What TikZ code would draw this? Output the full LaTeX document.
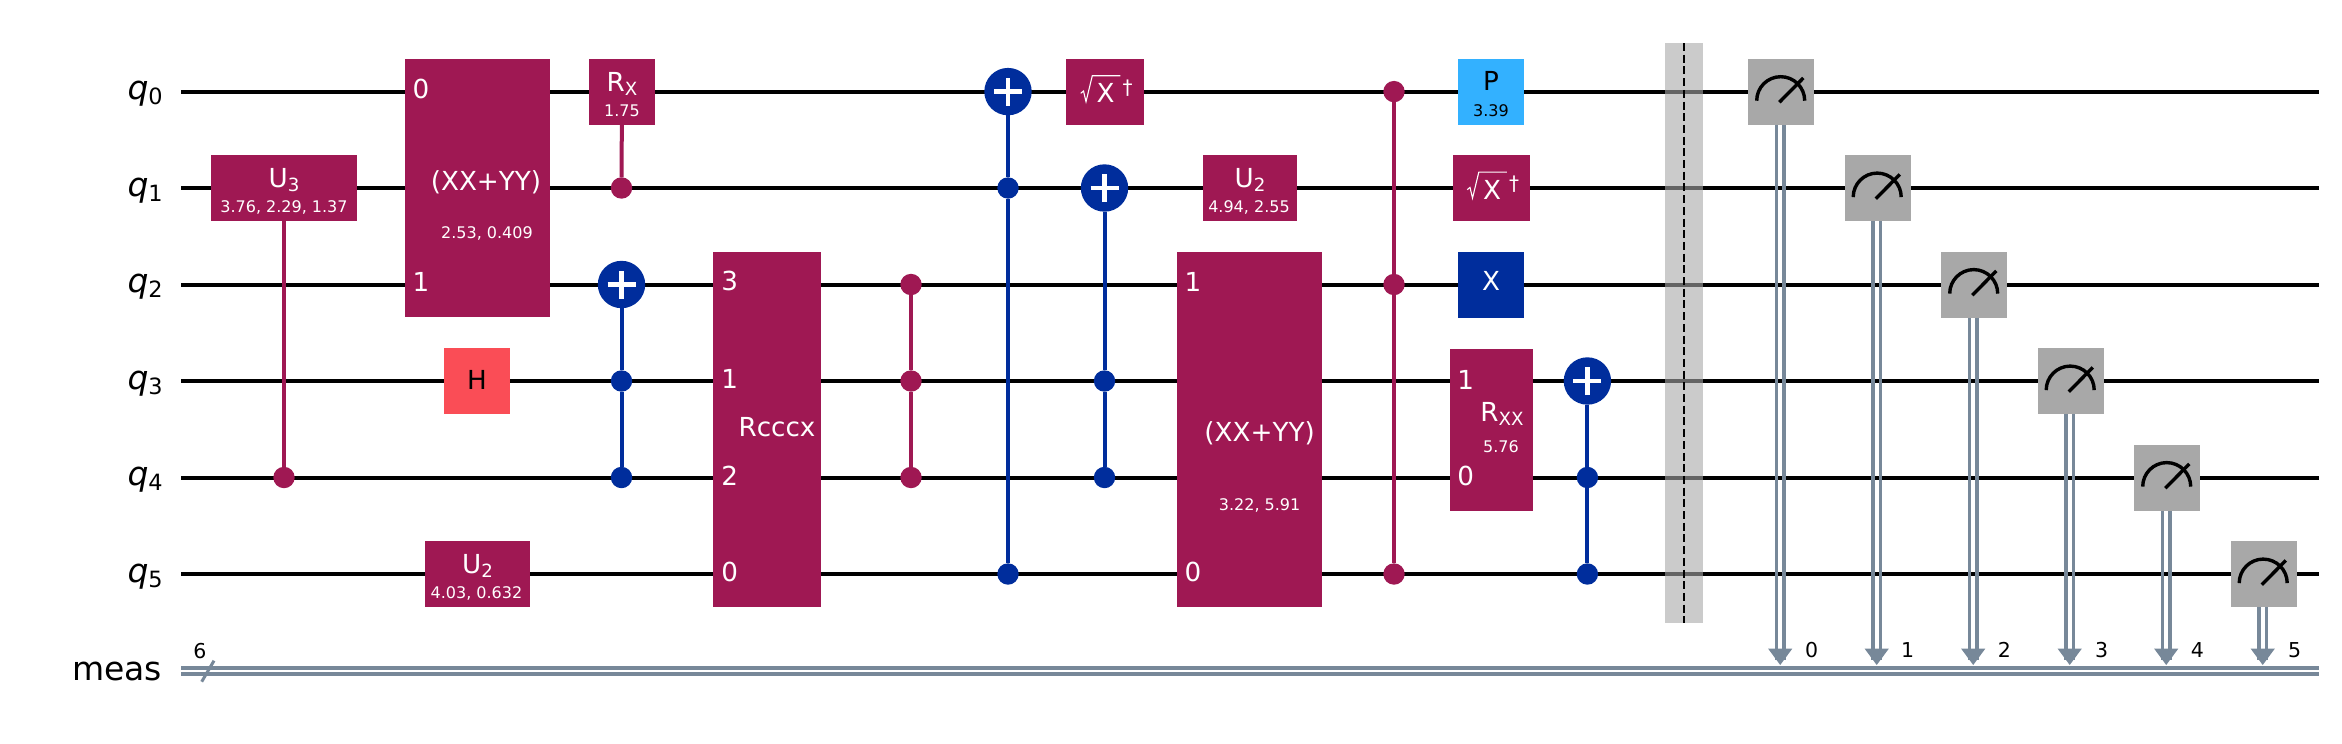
\documentclass[tikz,border=0pt]{standalone}
\usepackage{fontspec}
\setmainfont{DejaVu Sans}
\definecolor{gpurple}{HTML}{9F1853}
\definecolor{gblue}{HTML}{002D9C}
\definecolor{gred}{HTML}{FA4D56}
\definecolor{gsky}{HTML}{33B1FF}
\definecolor{ggray}{HTML}{A8A8A8}
\definecolor{gclbit}{HTML}{778899}
\newcommand{\gatesub}[1]{\raisebox{-4pt}{\fontsize{18.2}{20}\selectfont #1}}
\newcommand{\qlab}[1]{\textit{q}\raisebox{-5pt}{\fontsize{22.4}{24}\selectfont #1}}
\tikzset{
	wire/.style={line width=4pt,black},
	clwire/.style={line width=3.6pt,gclbit},
	bluelink/.style={line width=4pt,gblue},
	purplelink/.style={line width=4pt,gpurple},
	gatebox/.style={rectangle,inner sep=0pt,outer sep=0pt,minimum height=66pt,fill=gpurple},
	bluedot/.style={circle,inner sep=0pt,outer sep=0pt,minimum size=21.4pt,fill=gblue},
	purpledot/.style={circle,inner sep=0pt,outer sep=0pt,minimum size=21.4pt,fill=gpurple},
	cxtarget/.style={circle,inner sep=0pt,outer sep=0pt,minimum size=47.4pt,fill=gblue,
		path picture={\draw[white,line width=4.5pt]
			([xshift=-14pt]path picture bounding box.center)--([xshift=14pt]path picture bounding box.center)
			([yshift=-14pt]path picture bounding box.center)--([yshift=14pt]path picture bounding box.center);}},
	measbox/.style={rectangle,inner sep=0pt,outer sep=0pt,minimum width=66pt,minimum height=66pt,fill=ggray},
	txt/.style={anchor=base,inner sep=0pt,outer sep=0pt,text=white,font=\fontsize{26.2}{30}\selectfont},
	subtxt/.style={anchor=base,inner sep=0pt,outer sep=0pt,text=white,font=\fontsize{16}{20}\selectfont},
	daggertxt/.style={anchor=base,inner sep=0pt,outer sep=0pt,text=white,font=\fontsize{20}{24}\selectfont},
	lab/.style={anchor=base east,inner sep=0pt,outer sep=0pt,font=\fontsize{33}{40}\selectfont},
	cllab/.style={anchor=base,inner sep=0pt,outer sep=0pt,font=\fontsize{20.5}{24}\selectfont},
	meter/.pic={\draw[line width=3.4pt,black] (-24.3,8.7) arc[start angle=180,end angle=360,radius=24];
		\draw[line width=3.4pt,black] (-1.7,10.3)--(22.3,-14);},
	radical/.pic={\draw[white,line width=1.1pt,line join=miter] (-24.3,1.3)--(-21.5,-1)--(-19,9.7)--(-12.7,-16.3)--(15.3,-16.3);},
	tip/.pic={\fill[gclbit] (0,0)--(-12.2,-16.5)--(12.2,-16.5)--cycle;}
}
\begin{document}
\begin{tikzpicture}[x=1pt,y=-1pt,line cap=butt,line join=miter]
	\useasboundingbox (0,0) rectangle (2342,744);
	\coordinate (w0l) at (181,91.6); \coordinate (w0r) at (2319,91.6);
	\coordinate (w1l) at (181,188); \coordinate (w1r) at (2319,188);
	\coordinate (w2l) at (181,284.5); \coordinate (w2r) at (2319,284.5);
	\coordinate (w3l) at (181,381); \coordinate (w3r) at (2319,381);
	\coordinate (w4l) at (181,477.5); \coordinate (w4r) at (2319,477.5);
	\coordinate (w5l) at (181,574); \coordinate (w5r) at (2319,574);
	\coordinate (cl) at (181,671); \coordinate (cr) at (2319,671);
	\draw[wire] (w0l)--(w0r);
	\draw[wire] (w1l)--(w1r);
	\draw[wire] (w2l)--(w2r);
	\draw[wire] (w3l)--(w3r);
	\draw[wire] (w4l)--(w4r);
	\draw[wire] (w5l)--(w5r);
	\draw[clwire] ([yshift=3pt]cl)--([yshift=3pt]cr);
	\draw[clwire] ([yshift=-3pt]cl)--([yshift=-3pt]cr);
	\coordinate (sla) at (201.7,681.7); \coordinate (slb) at (214,660.7);
	\draw[gclbit,line width=3pt] (sla)--(slb);
	\node[lab] (lq0) at (162.7,99.6) {\qlab{0}};
	\node[lab] (lq1) at (162.7,196) {\qlab{1}};
	\node[lab] (lq2) at (162.7,292.5) {\qlab{2}};
	\node[lab] (lq3) at (162.7,389) {\qlab{3}};
	\node[lab] (lq4) at (162.7,485.5) {\qlab{4}};
	\node[lab] (lq5) at (162.7,582) {\qlab{5}};
	\node[lab] (lmeas) at (162,680.7) {meas};
	\node[cllab] (lsix) at (200,658) {6};
	% gates before the barrier
	\node[gatebox,minimum width=146pt] (uthree) at (284,188) {};
	\node[purpledot] (uctrl) at (284,477.5) {};
	\draw[purplelink] (uthree)--(uctrl);
	\node[txt] (uthreea) at (284,187.5) {U\gatesub{3}};
	\node[subtxt] (uthreeb) at (284,212.5) {3.76, 2.29, 1.37};
	\node[gatebox,minimum width=145pt,minimum height=258.6pt] (xxa) at (477.5,188) {};
	\node[txt] (xxat) at (486,190) {(XX+YY)};
	\node[subtxt] (xxas) at (487,238) {2.53, 0.409};
	\node[txt] (xxap) at (421,98.7) {0};
	\node[txt] (xxaq) at (421,291.7) {1};
	\node[gatebox,minimum width=66pt,fill=gred] (hgate) at (477,381) {};
	\node[txt,text=black] (hgatet) at (477,389) {H};
	\node[gatebox,minimum width=105pt] (utwoa) at (477.5,574) {};
	\node[txt] (utwoat) at (477.5,573.5) {U\gatesub{2}};
	\node[subtxt] (utwoas) at (476.5,598.5) {4.03, 0.632};
	\node[gatebox,minimum width=66pt] (rx) at (622,91.6) {};
	\node[purpledot] (rxctrl) at (621.5,188) {};
	\draw[purplelink] (rx)--(rxctrl);
	\node[txt] (rxt) at (622,91) {R\gatesub{X}};
	\node[subtxt] (rxs) at (622,116) {1.75};
	\node[cxtarget] (cxat) at (621.5,284.5) {};
	\node[bluedot] (cxaa) at (621.5,381) {};
	\node[bluedot] (cxab) at (621.5,477.5) {};
	\draw[bluelink] (cxat)--(cxaa);
	\draw[bluelink] (cxaa)--(cxab);
	\node[gatebox,minimum width=108pt,minimum height=355pt] (rc) at (767,429.5) {};
	\node[txt] (rct) at (777,436.4) {Rcccx};
	\node[txt] (rcp) at (729.6,290.8) {3};
	\node[txt] (rcq) at (729.6,388.5) {1};
	\node[txt] (rcr) at (729.6,485) {2};
	\node[txt] (rcs) at (729.6,581) {0};
	\node[purpledot] (czza) at (911,284.5) {};
	\node[purpledot] (czzb) at (911,381) {};
	\node[purpledot] (czzc) at (911,477.5) {};
	\draw[purplelink] (czza)--(czzb);
	\draw[purplelink] (czzb)--(czzc);
	\node[cxtarget] (cxbt) at (1008,91.6) {};
	\node[bluedot] (cxba) at (1008,188) {};
	\node[bluedot] (cxbb) at (1008,574) {};
	\draw[bluelink] (cxbt)--(cxba);
	\draw[bluelink] (cxba)--(cxbb);
	\node[gatebox,minimum width=77.5pt] (sxa) at (1105,91.6) {};
	\pic at (1105,92) {radical};
	\node[txt] (sxat) at (1105.5,102.5) {X};
	\node[daggertxt] (sxas) at (1127.5,94) {†};
	\node[cxtarget] (cxct) at (1104.5,188) {};
	\node[bluedot] (cxca) at (1104.5,381) {};
	\node[bluedot] (cxcb) at (1104.5,477.5) {};
	\draw[bluelink] (cxct)--(cxca);
	\draw[bluelink] (cxca)--(cxcb);
	\node[gatebox,minimum width=94pt] (utwob) at (1250,188) {};
	\node[txt] (utwobt) at (1250,187.5) {U\gatesub{2}};
	\node[subtxt] (utwobs) at (1249,212.5) {4.94, 2.55};
	\node[gatebox,minimum width=145pt,minimum height=355pt] (xxb) at (1249.5,429.5) {};
	\node[txt] (xxbt) at (1259.6,441) {(XX+YY)};
	\node[subtxt] (xxbs) at (1259.6,510) {3.22, 5.91};
	\node[txt] (xxbp) at (1193,291) {1};
	\node[txt] (xxbq) at (1193,581) {0};
	\node[purpledot] (ccza) at (1394,91.6) {};
	\node[purpledot] (cczb) at (1394,284.5) {};
	\node[purpledot] (cczc) at (1394,574) {};
	\draw[purplelink] (ccza)--(cczb);
	\draw[purplelink] (cczb)--(cczc);
	\node[gatebox,minimum width=66pt,fill=gsky] (pgate) at (1491,91.6) {};
	\node[txt,text=black] (pgatet) at (1491,90.5) {P};
	\node[subtxt,text=black] (pgates) at (1491,116) {3.39};
	\node[gatebox,minimum width=77.5pt] (sxb) at (1491.5,188) {};
	\pic at (1491.5,188.4) {radical};
	\node[txt] (sxbt) at (1492,199) {X};
	\node[daggertxt] (sxbs) at (1514,190.4) {†};
	\node[gatebox,minimum width=66pt,fill=gblue] (xgate) at (1491,284.5) {};
	\node[txt] (xgatet) at (1491,290.3) {X};
	\node[gatebox,minimum width=83pt,minimum height=162pt] (rxx) at (1491.5,430) {};
	\node[txt] (rxxt) at (1502,421) {R\gatesub{XX}};
	\node[subtxt] (rxxs) at (1501,452) {5.76};
	\node[txt] (rxxp) at (1465.7,389) {1};
	\node[txt] (rxxq) at (1465.7,485) {0};
	\node[cxtarget] (cxdt) at (1587.4,381) {};
	\node[bluedot] (cxda) at (1587.4,477.5) {};
	\node[bluedot] (cxdb) at (1587.4,574) {};
	\draw[bluelink] (cxdt)--(cxda);
	\draw[bluelink] (cxda)--(cxdb);
	% barrier
	\node[rectangle,inner sep=0pt,outer sep=0pt,minimum width=38pt,minimum height=579.5pt,fill=ggray,opacity=.6] (bar) at (1684,332.75) {};
	\draw[black,line width=2.2pt,dash pattern=on 8pt off 3.7pt] (bar.north)--(bar.south);
	% measures
	\node[measbox] (m0) at (1781,92) {};
	\coordinate (t0) at (1780.2,665);
	\draw[clwire] ([xshift=-3.8pt]m0.south-|t0)--([xshift=-3.8pt,yshift=5pt]t0);
	\draw[clwire] ([xshift=3.8pt]m0.south-|t0)--([xshift=3.8pt,yshift=5pt]t0);
	\pic at (t0) {tip};
	\pic at (m0) {meter};
	\node[cllab] (c0) at (1811.7,657.7) {0};
	\node[measbox] (m1) at (1877.5,188.4) {};
	\coordinate (t1) at (1876.7,665);
	\draw[clwire] ([xshift=-3.8pt]m1.south-|t1)--([xshift=-3.8pt,yshift=5pt]t1);
	\draw[clwire] ([xshift=3.8pt]m1.south-|t1)--([xshift=3.8pt,yshift=5pt]t1);
	\pic at (t1) {tip};
	\pic at (m1) {meter};
	\node[cllab] (c1) at (1907.6,657.7) {1};
	\node[measbox] (m2) at (1974,284.9) {};
	\coordinate (t2) at (1973.2,665);
	\draw[clwire] ([xshift=-3.8pt]m2.south-|t2)--([xshift=-3.8pt,yshift=5pt]t2);
	\draw[clwire] ([xshift=3.8pt]m2.south-|t2)--([xshift=3.8pt,yshift=5pt]t2);
	\pic at (t2) {tip};
	\pic at (m2) {meter};
	\node[cllab] (c2) at (2004.4,657.7) {2};
	\node[measbox] (m3) at (2070.5,381.4) {};
	\coordinate (t3) at (2069.7,665);
	\draw[clwire] ([xshift=-3.8pt]m3.south-|t3)--([xshift=-3.8pt,yshift=5pt]t3);
	\draw[clwire] ([xshift=3.8pt]m3.south-|t3)--([xshift=3.8pt,yshift=5pt]t3);
	\pic at (t3) {tip};
	\pic at (m3) {meter};
	\node[cllab] (c3) at (2101.6,657.7) {3};
	\node[measbox] (m4) at (2167,477.9) {};
	\coordinate (t4) at (2166.2,665);
	\draw[clwire] ([xshift=-3.8pt]m4.south-|t4)--([xshift=-3.8pt,yshift=5pt]t4);
	\draw[clwire] ([xshift=3.8pt]m4.south-|t4)--([xshift=3.8pt,yshift=5pt]t4);
	\pic at (t4) {tip};
	\pic at (m4) {meter};
	\node[cllab] (c4) at (2197.4,657.7) {4};
	\node[measbox] (m5) at (2263.5,574.4) {};
	\coordinate (t5) at (2262.7,665);
	\draw[clwire] ([xshift=-3.8pt]m5.south-|t5)--([xshift=-3.8pt,yshift=5pt]t5);
	\draw[clwire] ([xshift=3.8pt]m5.south-|t5)--([xshift=3.8pt,yshift=5pt]t5);
	\pic at (t5) {tip};
	\pic at (m5) {meter};
	\node[cllab] (c5) at (2294.7,657.7) {5};
\end{tikzpicture}
\end{document}
